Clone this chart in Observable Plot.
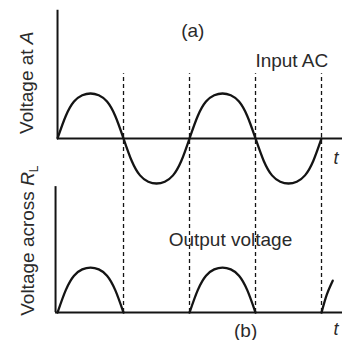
<!DOCTYPE html>
<html>
<head>
<meta charset="utf-8">
<script src="https://cdn.jsdelivr.net/npm/d3@7"></script>
<script src="https://cdn.jsdelivr.net/npm/@observablehq/plot@0.6"></script>
<style>
  html, body { margin: 0; padding: 0; background: #fff; }
  #chart svg { display: block; }
</style>
</head>
<body>
<div id="chart"></div>
<script>
// ---- data (time in half-periods, voltage in peak units) ----
const inputT = [0,0.125,0.25,0.375,0.5,0.625,0.75,0.875,1,
                1.125,1.25,1.375,1.5,1.625,1.75,1.875,2,
                2.125,2.25,2.375,2.5,2.625,2.75,2.875,3,
                3.125,3.25,3.375,3.5,3.625,3.75,3.875,4];
const inputV = [0,0.5,0.82,0.96,1,0.96,0.82,0.5,0,
                -0.5,-0.82,-0.96,-1,-0.96,-0.82,-0.5,0,
                0.5,0.82,0.96,1,0.96,0.82,0.5,0,
                -0.5,-0.82,-0.96,-1,-0.96,-0.82,-0.5,0];

const outputHump = ["h1","h1","h1","h1","h1","h1","h1","h1","h1",
                    "h2","h2","h2","h2","h2","h2","h2","h2","h2",
                    "h3","h3","h3"];
const outputT    = [0,0.125,0.25,0.375,0.5,0.625,0.75,0.875,1,
                    2,2.125,2.25,2.375,2.5,2.625,2.75,2.875,3,
                    4,4.08,4.17];
const outputV    = [0,0.5,0.82,0.96,1,0.96,0.82,0.5,0,
                    0,0.5,0.82,0.96,1,0.96,0.82,0.5,0,
                    0,0.4,0.71];

const zeroCrossings = [1,2,3,4];

const panelLabels = ["(a)", "(b)"];
const curveLabels = ["Input AC", "Output voltage"];
const axisTitles  = ["Voltage at A", "Voltage across RL"];
const timeLabel   = "t";

// ---- layout ----
const W = 342, H = 340;
const bottomBase = -3.87;      // baseline of panel (b) in voltage units
const xEnd = 4.32;

const inputData  = inputT.map((t, i) => ({t, v: inputV[i]}));
const outputData = outputT.map((t, i) => ({t, v: outputV[i] + bottomBase, k: outputHump[i]}));

const ink = "#141414";
const textInk = "#2a2a2a";
const font = "Liberation Sans, Arial, sans-serif";

const plainText = [
  {s: panelLabels[0], x: 2.05, y: 2.40},
  {s: curveLabels[0], x: 3.55, y: 1.73},
  {s: curveLabels[1], x: 2.62, y: -2.245},
  {s: panelLabels[1], x: 2.85, y: -4.27}
];
const italicText = [
  {s: timeLabel, x: 4.22, y: -0.44},
  {s: timeLabel, x: 4.22, y: -4.25}
];
const rotText = [
  {s: axisTitles[0], x: -0.47, y: 1.24},
  {s: axisTitles[1], x: -0.45, y: -2.27}
];

const chart = Plot.plot({
  width: W, height: H,
  marginTop: 0, marginBottom: 0, marginLeft: 0, marginRight: 0,
  style: {background: "#fff", fontFamily: font},
  x: {domain: [-0.864, 4.318], axis: null},
  y: {domain: [-4.49, 3.067], axis: null},
  marks: [
    // dashed guides at zero crossings
    Plot.ruleX(zeroCrossings, {y1: bottomBase, y2: 1.44, stroke: ink, strokeWidth: 1.3, strokeDasharray: "4,3"}),
    // baselines
    Plot.ruleY([0], {x1: 0, x2: xEnd, stroke: ink, strokeWidth: 2}),
    Plot.ruleY([bottomBase], {x1: -0.03, x2: xEnd, stroke: ink, strokeWidth: 2}),
    // vertical axes
    Plot.ruleX([0], {y1: 0, y2: 2.85, stroke: ink, strokeWidth: 2}),
    Plot.ruleX([-0.03], {y1: bottomBase, y2: bottomBase + 2.8, stroke: ink, strokeWidth: 2}),
    // input AC
    Plot.line(inputData, {x: "t", y: "v", curve: "natural", stroke: ink, strokeWidth: 2.3}),
    // rectified output
    Plot.line(outputData, {x: "t", y: "v", z: "k", curve: "natural", stroke: ink, strokeWidth: 2.3}),
    // texts
    Plot.text(plainText, {x: "x", y: "y", text: "s", fontSize: 19, fill: textInk, fontFamily: font}),
    Plot.text(italicText, {x: "x", y: "y", text: "s", fontSize: 18, fill: textInk, fontStyle: "italic", fontFamily: font}),
    Plot.text(rotText, {x: "x", y: "y", text: "s", fontSize: 19, fill: textInk, rotate: -90, fontFamily: font})
  ]
});

document.getElementById("chart").appendChild(chart);

// italic A and R with subscript L
d3.select(chart).selectAll("text").each(function() {
  const t = this.textContent;
  if (t === axisTitles[0]) {
    const el = d3.select(this);
    el.text("");
    el.append("tspan").text("Voltage at ");
    el.append("tspan").attr("font-style", "italic").text("A");
  } else if (t === axisTitles[1]) {
    const el = d3.select(this);
    el.text("");
    el.append("tspan").text("Voltage across ");
    el.append("tspan").attr("font-style", "italic").text("R");
    el.append("tspan").attr("font-size", 12).attr("dy", 4).text("L");
  }
});
</script>
</body>
</html>
